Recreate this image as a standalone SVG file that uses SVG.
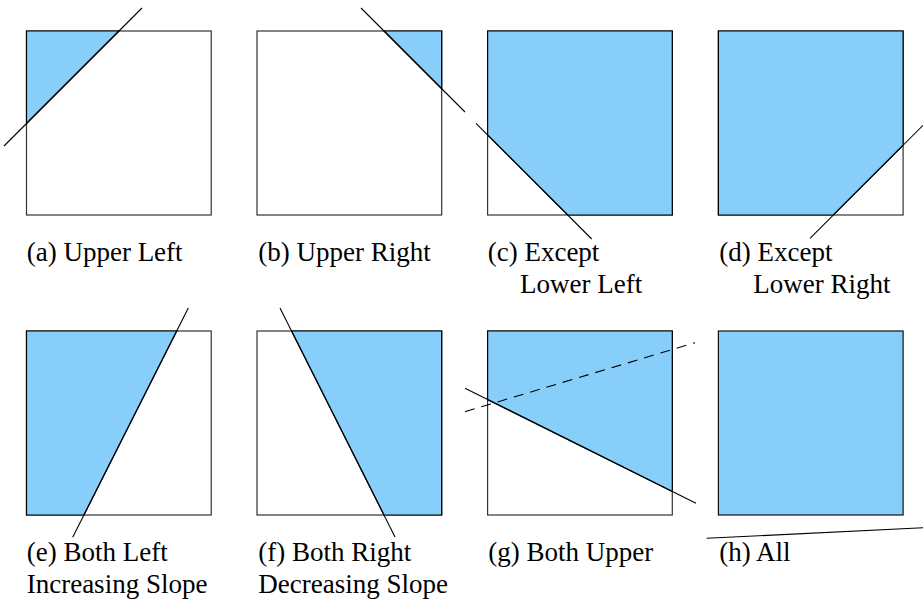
<svg xmlns="http://www.w3.org/2000/svg" width="923" height="600" viewBox="0 0 923 600">
<style>
.box{fill:#fff;stroke:#333;stroke-width:1.2}
.full{fill:#87cefa;stroke:#111;stroke-width:1.2}
.reg{fill:#87cefa;stroke:#000;stroke-width:1.2}
.cut{stroke:#000;stroke-width:1.1;fill:none}
.dash{stroke:#000;stroke-width:1.1;fill:none;stroke-dasharray:10,7}
text{font-family:'Liberation Serif','Times New Roman','DejaVu Serif',serif;font-size:27px;fill:#000}
</style>
<rect width="923" height="600" fill="#fff"/>
<g id="panel-a">
<rect class="box" x="26.5" y="31" width="184.7" height="184"/>
<polygon class="reg" points="26.5,31 119,31 26.5,123.5"/>
<text font-family="Liberation Serif, serif" x="26.7" y="261">(a) Upper Left</text>
</g>
<g id="panel-b">
<rect class="box" x="257" y="31" width="184.7" height="184"/>
<polygon class="reg" points="384,31 441.7,31 441.7,88.7"/>
<text font-family="Liberation Serif, serif" x="258.3" y="261">(b) Upper Right</text>
</g>
<g id="panel-c">
<rect class="box" x="487.6" y="31" width="184.7" height="184"/>
<polygon class="reg" points="487.6,31 672.3,31 672.3,215 567.7,215 487.6,135"/>
<text font-family="Liberation Serif, serif" x="487.7" y="261">(c) Except</text>
<text font-family="Liberation Serif, serif" x="520" y="293">Lower Left</text>
</g>
<g id="panel-d">
<rect class="box" x="718.4" y="31" width="184.7" height="184"/>
<polygon class="reg" points="718.4,31 903.1,31 903.1,145.2 833.3,215 718.4,215"/>
<text font-family="Liberation Serif, serif" x="719.3" y="261">(d) Except</text>
<text font-family="Liberation Serif, serif" x="753.3" y="293">Lower Right</text>
</g>
<g id="panel-e">
<rect class="box" x="26.5" y="331" width="184.7" height="184"/>
<polygon class="reg" points="26.5,331 176.7,331 83.9,515 26.5,515"/>
<text font-family="Liberation Serif, serif" x="26.7" y="561">(e) Both Left</text>
<text font-family="Liberation Serif, serif" x="26.7" y="593">Increasing Slope</text>
</g>
<g id="panel-f">
<rect class="box" x="257" y="331" width="184.7" height="184"/>
<polygon class="reg" points="291.6,331 441.7,331 441.7,515 384,515"/>
<text font-family="Liberation Serif, serif" x="258.3" y="561">(f) Both Right</text>
<text font-family="Liberation Serif, serif" x="258.3" y="593">Decreasing Slope</text>
</g>
<g id="panel-g">
<rect class="box" x="487.6" y="331" width="184.7" height="184"/>
<polygon class="reg" points="487.6,331 672.3,331 672.3,491.5 487.6,399.6"/>
<text font-family="Liberation Serif, serif" x="488.3" y="561">(g) Both Upper</text>
</g>
<g id="panel-h">
<rect class="full" x="718.4" y="331" width="184.7" height="184"/>
<text font-family="Liberation Serif, serif" x="719.3" y="561">(h) All</text>
</g>
<g id="connectors">
<line class="cut" x1="4" y1="146" x2="142" y2="8"/>
<line class="cut" x1="361" y1="8" x2="465" y2="112"/>
<line class="cut" x1="476" y1="123.3" x2="591.7" y2="239"/>
<line class="cut" x1="810" y1="238.3" x2="923" y2="125.3"/>
<line class="cut" x1="188.3" y1="308" x2="72.7" y2="537.3"/>
<line class="cut" x1="280" y1="308" x2="395" y2="537"/>
<line class="cut" x1="465" y1="388.3" x2="696" y2="503.3"/>
<line class="dash" x1="465" y1="411.7" x2="695" y2="342.7"/>
<line class="cut" x1="706.7" y1="538.3" x2="923" y2="527.8"/>
</g>
</svg>
